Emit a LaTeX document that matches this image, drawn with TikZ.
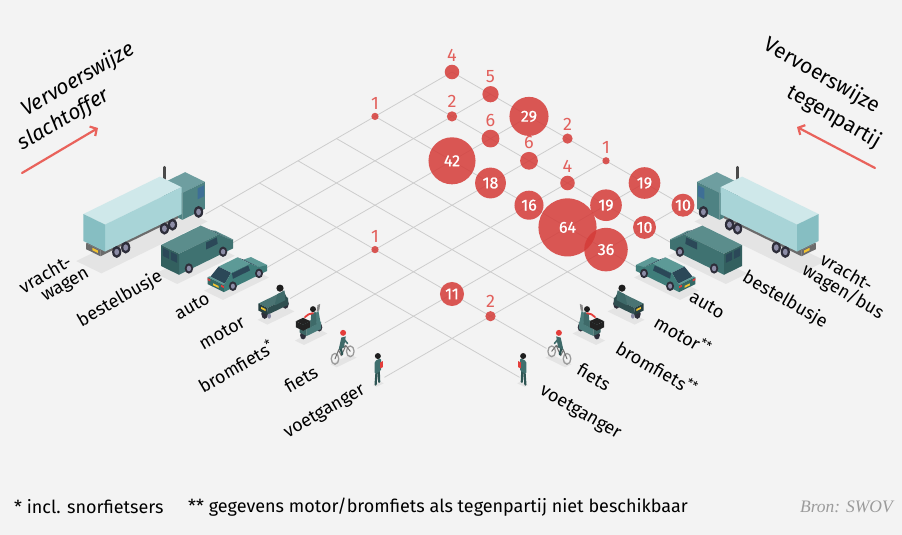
\documentclass[tikz,border=0pt]{standalone}
\usepackage{fontspec}
\setmainfont{Fira Sans}
\newfontfamily\numfont[FakeBold=0.8]{Fira Sans}
\newfontfamily\bronfont{Liberation Serif}
\usetikzlibrary{positioning,arrows.meta}
\definecolor{bg}{HTML}{F3F3F3}
\definecolor{raster}{HTML}{CDCDCD}
\definecolor{rood}{HTML}{D53B38}
\definecolor{roodlicht}{HTML}{E2605C}
\definecolor{pijlrood}{HTML}{E9625B}
\definecolor{traileropp}{HTML}{CFE8EA}
\definecolor{trailerzij}{HTML}{A8D4D7}
\definecolor{trailerachter}{HTML}{86BEC2}
\definecolor{cabtop}{HTML}{6E9EA0}
\definecolor{cabzij}{HTML}{4E8283}
\definecolor{chassis}{HTML}{6B6B6B}
\definecolor{uitlaat}{HTML}{4A4A4A}
\definecolor{band}{HTML}{2E2E3A}
\definecolor{velg}{HTML}{8C8CA6}
\definecolor{raam}{HTML}{3E6F96}
\definecolor{buszij}{HTML}{3F7271}
\definecolor{busdak}{HTML}{5B8D8C}
\definecolor{busachter}{HTML}{33605F}
\definecolor{glas}{HTML}{2B4858}
\definecolor{autozij}{HTML}{3F7D7A}
\definecolor{autodak}{HTML}{5D9A97}
\definecolor{autoachter}{HTML}{346966}
\definecolor{lamp}{HTML}{E23B3B}
\definecolor{geel}{HTML}{F2C230}
\definecolor{motortop}{HTML}{4A7473}
\definecolor{motorzij}{HTML}{2F4F50}
\definecolor{motorachter}{HTML}{263F40}
\definecolor{rijder}{HTML}{3E6A69}
\definecolor{helm}{HTML}{1E1E1E}
\definecolor{bromtop}{HTML}{6A9796}
\definecolor{bromzij}{HTML}{4B7C7B}
\definecolor{bromachter}{HTML}{3C6564}
\definecolor{koffer}{HTML}{222222}
\definecolor{scherm}{HTML}{8A8A8A}
\definecolor{sjaal}{HTML}{E43D3A}
\definecolor{wiel}{HTML}{9A9A9A}
\definecolor{frame}{HTML}{707070}
\definecolor{benen}{HTML}{2E5554}
\definecolor{lijf}{HTML}{3F6F6E}
\definecolor{schaduw}{HTML}{E4E4E4}
\definecolor{bron}{HTML}{9B9B9B}
% doos in iso-coordinaten: a0 a1 b0 b1 c0 c1, kleur boven/zij/achter
\newcommand\isobox[9]{%
	\fill[#7] (#1,#3,#6)--(#2,#3,#6)--(#2,#4,#6)--(#1,#4,#6)--cycle;
	\fill[#8] (#1,#4,#5)--(#2,#4,#5)--(#2,#4,#6)--(#1,#4,#6)--cycle;
	\fill[#9] (#2,#3,#5)--(#2,#4,#5)--(#2,#4,#6)--(#2,#3,#6)--cycle;}
\tikzset{
	iso/.style={x={(0.9pt,-0.44pt)},y={(-0.9pt,-0.44pt)},z={(0pt,1pt)}},
	raster/.style={draw=raster,line width=0.8pt},
	bubble/.style={circle,fill=rood,fill opacity=.85,text opacity=1,text=white,inner sep=0pt,font=\fontsize{16}{16}\numfont},
	numlab/.style={text=roodlicht,inner sep=0pt,font=\fontsize{18}{18}\selectfont},
	modeL/.style={rotate=30,inner sep=0pt,font=\fontsize{18}{19}\selectfont},
	modeR/.style={rotate=-30,inner sep=0pt,font=\fontsize{18}{19}\selectfont},
	kopL/.style={rotate=30,inner sep=0pt,font=\fontsize{21}{22}\selectfont\itshape},
	kopR/.style={rotate=-30,inner sep=0pt,font=\fontsize{21}{22}\selectfont},
	pijl/.style={draw=pijlrood,line width=2.2pt,->},
	voet/.style={inner sep=0pt,font=\fontsize{18}{19}\selectfont},
	lorry/.pic={\begin{scope}[iso]
		\fill[schaduw] (6,-8,0)--(124,-8,0)--(124,20,0)--(6,20,0)--cycle;
		\draw[line width=2.4pt,draw=uitlaat] (24,-10,30)--(24,-10,49);
		\isobox{0}{25}{-11}{11}{6}{33}{cabtop}{cabzij}{cabzij}
		\fill[raam] (1,11,19)--(8,11,19)--(8,11,30)--(1,11,30)--cycle;
		\isobox{27}{113}{-8}{8}{7}{13}{chassis}{chassis}{chassis}
		\isobox{27}{112}{-12}{12}{13}{40}{traileropp}{trailerzij}{trailerachter}
		\fill[geel] (113,-1,9)--(113,5,9)--(113,5,11.5)--(113,-1,11.5)--cycle;
		\foreach \w in {7,36,45,88,98}{
			\fill[band] (\w,11,6) ellipse [x radius=4.6pt,y radius=6pt];
			\fill[velg] (\w,11,6) ellipse [x radius=2.4pt,y radius=3.2pt];}
		\end{scope}},
	van/.pic={\begin{scope}[iso]
		\fill[schaduw] (4,-8,0)--(68,-8,0)--(68,16,0)--(4,16,0)--cycle;
		\fill[busdak] (0,-10,12)--(4,-10,14)--(4,10,14)--(0,10,12)--cycle;
		\fill[glas] (4,-10,14)--(16,-10,24)--(16,10,24)--(4,10,14)--cycle;
		\fill[busdak] (16,-10,24)--(60,-10,24)--(60,10,24)--(16,10,24)--cycle;
		\fill[buszij] (0,10,3)--(60,10,3)--(60,10,24)--(16,10,24)--(4,10,14)--(0,10,12)--cycle;
		\fill[busachter] (60,-10,3)--(60,10,3)--(60,10,24)--(60,-10,24)--cycle;
		\fill[glas] (17,10,15)--(30,10,15)--(30,10,22)--(18,10,22)--cycle;
		\fill[glas] (60,-8,14)--(60,-1,14)--(60,-1,22)--(60,-8,22)--cycle;
		\fill[glas] (60,1,14)--(60,8,14)--(60,8,22)--(60,1,22)--cycle;
		\foreach \w in {11,49}{
			\fill[band] (\w,10,4.5) ellipse [x radius=4.2pt,y radius=5.2pt];
			\fill[velg] (\w,10,4.5) ellipse [x radius=2.2pt,y radius=2.8pt];}
		\end{scope}},
	car/.pic={\begin{scope}[iso]
		\fill[schaduw] (3,-7,0)--(54,-7,0)--(54,14,0)--(3,14,0)--cycle;
		\fill[autodak] (0,-9,9)--(8,-9,10)--(8,9,10)--(0,9,9)--cycle;
		\fill[glas] (8,-8,10)--(17,-7,17)--(17,7,17)--(8,8,10)--cycle;
		\fill[autodak] (17,-7,17)--(38,-7,17)--(38,7,17)--(17,7,17)--cycle;
		\fill[glas] (38,-7,17)--(46,-8,10)--(46,8,10)--(38,7,17)--cycle;
		\fill[autodak] (46,-9,10)--(48,-9,10)--(48,9,10)--(46,9,10)--cycle;
		\fill[autozij] (0,9,3)--(48,9,3)--(48,9,10)--(46,8,10)--(38,7,17)--(17,7,17)--(8,8,10)--(0,9,9)--cycle;
		\fill[autoachter] (48,-9,3)--(48,9,3)--(48,9,10)--(48,-9,10)--cycle;
		\fill[glas] (18,8,11)--(37,8,11)--(37,7,16)--(19,7,16)--cycle;
		\fill[lamp] (48,6,7)--(48,9,7)--(48,9,9)--(48,6,9)--cycle;
		\fill[lamp] (48,-9,7)--(48,-6,7)--(48,-6,9)--(48,-9,9)--cycle;
		\fill[geel] (48,-3,4.5)--(48,3,4.5)--(48,3,6.5)--(48,-3,6.5)--cycle;
		\foreach \w in {9,38}{
			\fill[band] (\w,9,4.5) ellipse [x radius=4pt,y radius=4.8pt];
			\fill[velg] (\w,9,4.5) ellipse [x radius=2pt,y radius=2.6pt];}
		\end{scope}},
	motorbike/.pic={\begin{scope}[iso]
		\fill[schaduw] (2,-3,0)--(32,-3,0)--(32,8,0)--(2,8,0)--cycle;
		\fill[band] (4,0,5) ellipse [x radius=3.4pt,y radius=5pt];
		\fill[band] (27,0,5) ellipse [x radius=3.4pt,y radius=5pt];
		\isobox{6}{29}{-5}{5}{7}{14}{motortop}{motorzij}{motorachter}
		\fill[motorzij] (1,0,7)--(6,0,19)--(11,0,17)--(8,0,7)--cycle;
		\fill[rijder] (9,5,13)--(21,5,13)--(18,5,23)--(10,5,23)--cycle;
		\fill[helm] (12,2,25) circle (3.6pt);
		\fill[velg] (27,5,5) ellipse [x radius=1.8pt,y radius=2.6pt];
		\fill[geel] (29,-2,10)--(29,3,10)--(29,3,12)--(29,-2,12)--cycle;
		\end{scope}},
	moped/.pic={\begin{scope}[iso]
		\fill[schaduw] (1,-3,0)--(27,-3,0)--(27,7,0)--(1,7,0)--cycle;
		\fill[band] (3,0,4) ellipse [x radius=3pt,y radius=4.2pt];
		\fill[band] (21,0,4) ellipse [x radius=3pt,y radius=4.2pt];
		\isobox{5}{21}{-4}{4}{5}{12}{bromtop}{bromzij}{bromachter}
		\fill[bromzij] (1,0,5)--(4,0,21)--(7,0,20)--(6,0,6)--cycle;
		\fill[scherm] (3,0,21)--(2,0,27)--(5,0,27)--(6,0,21)--cycle;
		\isobox{17}{25}{-4}{4}{12}{18}{koffer}{koffer}{koffer}
		\fill[rijder] (9,3,11)--(16,3,11)--(15,3,24)--(10,3,24)--cycle;
		\draw[draw=sjaal,line width=1.8pt] (12,2,23)--(17,2,24)--(21,2,23);
		\fill[helm] (12,2,27) circle (3pt);
		\end{scope}},
	bicycle/.pic={\begin{scope}[iso]
		\fill[schaduw] (1,-2,0)--(23,-2,0)--(23,5,0)--(1,5,0)--cycle;
		\draw[draw=wiel,line width=1.3pt] (3,0,5) ellipse [x radius=3.8pt,y radius=5.4pt] (20,0,5) ellipse [x radius=3.8pt,y radius=5.4pt];
		\draw[draw=frame,line width=1pt] (3,0,5)--(8,0,13)--(16,0,12)--(20,0,5) (16,0,12)--(13,0,5)--(8,0,13);
		\draw[draw=benen,line width=2.2pt] (14,0,14)--(12,0,6);
		\fill[rijder] (11,1,13)--(17,1,13)--(14,1,24)--(9,1,23)--cycle;
		\draw[draw=rijder,line width=1.6pt] (11,1,21)--(7,1,15);
		\fill[sjaal] (11,0,27) circle (3pt);
		\end{scope}},
	walker/.pic={\begin{scope}[iso]
		\fill[schaduw] (0,-1,0)--(8,-1,0)--(8,3,0)--(0,3,0)--cycle;
		\draw[draw=benen,line width=2.2pt] (2,0,1)--(2.5,0,12) (6,0,0)--(5,0,12);
		\fill[lijf,rounded corners=1.5pt] (0,0,11)--(7,0,11)--(7,0,24)--(0,0,24)--cycle;
		\fill[helm] (3.5,0,27.5) circle (3pt);
		\fill[sjaal] (-2,0,14)--(1,0,14)--(1,0,20)--(-2,0,20)--cycle;
		\end{scope}}
}
\begin{document}
\begin{tikzpicture}[x=1pt,y=-1pt,line join=round,line cap=round,>={Straight Barb[length=5pt,width=11pt]}]
	\fill[bg] (0,0) rectangle (902,535);
	\useasboundingbox (0,0) rectangle (902,535);
	% rooster: i = slachtoffer, j = tegenpartij
	\begin{scope}[shift={(452,72)},x={(38.5pt,-22.2pt)},y={(-38.5pt,-22.2pt)}]
	\foreach \k/\e in {0/6.4,1/6.7,2/6.95,3/7.2,4/7.3,5/7.45,6/7.75}{
		\coordinate (rA\k) at (\k,0);
		\coordinate (rB\k) at (\k,\e);
		\coordinate (kA\k) at (0,\k);
		\coordinate (kB\k) at (\e,\k);
		\draw[raster] (rA\k)--(rB\k) (kA\k)--(kB\k);
	}
	\foreach \i/\j/\n in {0/0/4,1/0/5,2/0/29,3/0/2,4/0/1,5/0/19,6/0/10,
		0/2/1,1/1/2,2/1/6,3/1/6,4/1/4,5/1/19,6/1/10,
		2/2/42,3/2/18,4/2/16,5/2/64,6/2/36,
		3/5/1,5/5/11,6/5/2}{
		\node[bubble,minimum size={7.26*sqrt(\n)}] (b\i\j) at (\i,\j) {\ifnum\n>9 \n\fi};
		\ifnum\n<10 \node[numlab,above=3pt of b\i\j] (t\i\j) {\n};\fi
	}
	\end{scope}
	% voertuigen rechts (tegenpartij) en links (slachtoffer, gespiegeld)
	\pic (truckR) at (707,210) {lorry};
	\pic (vanR) at (679,247) {van};
	\pic (carR) at (644,270) {car};
	\pic (motorR) at (613,307) {motorbike};
	\pic (bromR) at (578,330) {moped};
	\pic (fietsR) at (549,355) {bicycle};
	\pic (voetR) at (520,382) {walker};
	\pic[xscale=-1] (truckL) at (195,210) {lorry};
	\pic[xscale=-1] (vanL) at (224,247) {van};
	\pic[xscale=-1] (carL) at (259,270) {car};
	\pic[xscale=-1] (motorL) at (289,307) {motorbike};
	\pic[xscale=-1] (bromL) at (322,330) {moped};
	\pic[xscale=-1] (fietsL) at (353,355) {bicycle};
	\pic[xscale=-1] (voetL) at (381,382) {walker};
	\path
	(45,274) node[modeL] (lVr1) {vracht-}
	(66,286) node[modeL] (lVr2) {wagen}
	(120,299) node[modeL] (lBus) {bestelbusje}
	(192,306) node[modeL] (lAuto) {auto}
	(222,333) node[modeL] (lMotor) {motor}
	(236,366) node[modeL] (lBrom) {bromfiets\textsuperscript{*}}
	(301,379) node[modeL] (lFiets) {fiets}
	(325,412) node[modeL] (lVoet) {voetganger}
	(847,272) node[modeR] (rVr1) {vracht-}
	(843,292) node[modeR] (rVr2) {wagen/bus}
	(785,300) node[modeR] (rBus) {bestelbusje}
	(707,305) node[modeR] (rAuto) {auto}
	(683,335) node[modeR] (rMotor) {motor\textsuperscript{**}}
	(657,368) node[modeR] (rBrom) {bromfiets\textsuperscript{**}}
	(594,377) node[modeR] (rFiets) {fiets}
	(580,413) node[modeR] (rVoet) {voetganger}
	(78,80) node[kopL] (kopL1) {Vervoerswijze}
	(64,120) node[kopL] (kopL2) {slachtoffer}
	(822,76) node[kopR] (kopR1) {Vervoerswijze}
	(834,117) node[kopR] (kopR2) {tegenpartij}
	(14,507) node[voet,anchor=west] (noot1) {* incl. snorfietsers}
	(188,507) node[voet,anchor=west] (noot2) {** gegevens motor/bromfiets als tegenpartij niet beschikbaar}
	(893,507) node[voet,anchor=east,text=bron,font=\fontsize{17.5}{18}\bronfont\itshape] (bron) {Bron: SWOV};
	\coordinate (pijlL0) at (22,173);
	\coordinate (pijlL1) at (98,128);
	\coordinate (pijlR0) at (875,168);
	\coordinate (pijlR1) at (797,127);
	\draw[pijl] (pijlL0)--(pijlL1);
	\draw[pijl] (pijlR0)--(pijlR1);
\end{tikzpicture}
\end{document}
